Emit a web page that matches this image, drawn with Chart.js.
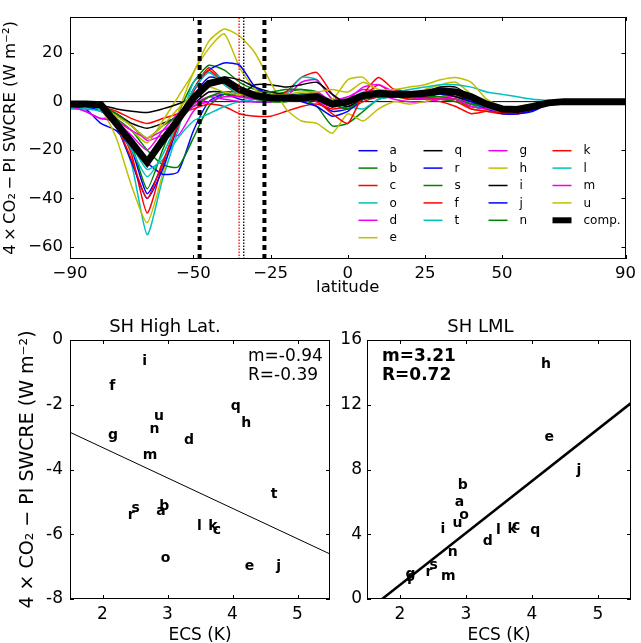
<!DOCTYPE html>
<html>
<head>
<meta charset="utf-8">
<script src="https://cdn.jsdelivr.net/npm/chart.js@4.4.1/dist/chart.umd.min.js"></script>
<style>
  html, body { margin: 0; padding: 0; background: #fff; }
  #wrap { position: relative; width: 641px; height: 643px; overflow: hidden; }
  #wrap canvas { position: absolute; }
</style>
</head>
<body>
<div id="wrap">
  <canvas id="profile" width="641" height="300" style="left:0;top:0"></canvas>
  <canvas id="highLat" width="332" height="346" style="left:0;top:300px"></canvas>
  <canvas id="lml" width="311" height="346" style="left:330px;top:300px"></canvas>
</div>
<script>
// latitude grid of the zonal-mean profiles
var lat = [-90,-85,-80,-75,-70,-65,-60,-55,-50,-45,-40,-35,-30,-25,-20,-15,-10,-5,0,5,10,15,20,25,30,35,40,45,50,55,60,65,70,75,80,85,90];

// 4xCO2 - PI SWCRE (W m-2) per model, on the grid above
var cre_a = [-2,-3,-9,-12,-20,-38,-26,-10,2,10,9,5,2,1,2,3,2,-2,0,3,4,5,4,4,5,4,1,-2,-4,-4.5,-3,-1,0,0,0,0,0];
var cre_b = [-1,-1,-2,-7,-18,-36,-20,-5,8,15,13,8,5,3,4,5,3,-2,-1,3,4,4,3,3,3,2,0,-2,-3,-3,-2,-0.5,0,0,0,0,0];
var cre_c = [-1,-1,-2,-8,-22,-46,-26,-8,5,14,8,3,1,1,4,10,12,3,-3,0,2,3,2,1,1,0,-3,-4,-5,-5,-3,-1,0,0,0,0,0];
var cre_o = [-3,-3,-3,-10,-26,-55,-32,-12,8,12,9,4,1,1,3,10,9,1,-1,3,4,4,3,3,3,2,0,-2,-3,-3.5,-2,-0.5,0,0,0,0,0];
var cre_d = [-2,-4,-7,-6,-10,-16,-14,-14,-4,2,3,3,2,2,2,8,9,1,2,5,4,3,2,1,2,2,-1,-3,-3,-3,-2,-0.5,0,0,0,0,0];
var cre_e = [-1,-1,-3,-15,-35,-50,-30,-5,12,22,28,14,5,2,1,2,3,1,9,10,3,2,3,5,7,8,3,-2,-3,-3,-2,-0.5,0,0,0,0,0];
var cre_q = [-1,-1,-2,-5,-9,-11,-9,-6,-1,4,4,3,7,7,6,7,8,3,-1,2,3,3,3,4,6,6,2,-1,-3,-3,-2,-0.5,0,0,0,0,0];
var cre_r = [-2,-2,-4,-8,-15,-25,-30,-29,-12,0,3,1,0,0,1,2,0,-4,-3,1,2,3,2,2,2,1,-1,-3,-4.5,-5,-3.5,-1,0,0,0,0,0];
var cre_s = [-1,-1.5,-3,-7,-12,-20,-26,-27,-15,-2,3,2,1,0,0,1,-2,-10,-9,-4,1,2,1,1,1,0,-2,-3,-3.5,-3,-2,-0.5,0,0,0,0,0];
var cre_f = [-1,-1,-2,-4,-7,-9,-7,-5,-3,-1,-2,-5,-6,-6,-4,-2,-1,-3,-2,2,7,3,1,1,0,-2,-5,-4,-4,-4,-2,-0.5,0,0,0,0,0];
var cre_t = [-3,-3,-4,-8,-18,-28,-24,-15,-8,-5,-2,0,1,1,2,2,1,-1,-2,-3,1,2,2,2,2,1,-1,-3,-4,-4,-2.5,-1,0,0,0,0,0];
var cre_g = [-1,-1,-2,-8,-14,-20,-12,-5,-1,2,1,0,0,0,1,2,0,-2,1,2,3,1,0,0,1,1,-1,-2,-3,-3,-2,-0.5,0,0,0,0,0];
var cre_h = [-1,-1,-3,-8,-12,-17,-8,2,12,25,30,27,20,8,-3,-8,-9,-13,-5,-8,-3,0,-1,0,2,1,-3,-4,-4,-4,-2,-0.5,0,0,0,0,0];
var cre_i = [-1,-1,-1.5,-3,-4,-4.5,-3,-1,2,7,10,9,6,4,3,3,3,0,-2,1,2,2,2,2,3,2,0,-2,-3,-3,-2,-0.5,0,0,0,0,0];
var cre_j = [-1,-1,-2,-10,-25,-40,-28,-10,5,13,16,15,6,3,2,0,-2,-6,-4,1,3,4,3,3,3,3,0,-3,-5,-5,-4,-1,0,0,0,0,0];
var cre_n = [-1,-1,-2,-5,-10,-15,-10,-6,-2,2,4,4,4,4,5,5,4,-1,-3,1,2,2,2,2,2,1,-1,-2,-3,-2.5,-1.5,-0.5,0,0,0,0,0];
var cre_k = [-1,-1,-2,-10,-24,-40,-25,-10,4,13,7,3,2,2,2,2,0,-5,-9,3,10,5,3,2,1,1,-3,-4,-4.5,-4.5,-3,-1,0,0,0,0,0];
var cre_l = [-2,-2,-3,-10,-20,-31,-22,-8,5,12,7,3,2,1,2,3,2,0,1,4,4,4,5,6,7,7,6,4,3,2,1,0.5,0,0,0,0,0];
var cre_m = [-2,-4,-7,-8,-12,-15,-12,-8,-2,0,2,2,1,1,1,1,4,0,1,6,7,4,2,1,1,1,-2,-3,-3.5,-3,-2,-0.5,0,0,0,0,0];
var cre_u = [-1,-1,-2,-6,-10,-15,-10,-3,3,6,4,3,4,3,3,4,4,5,4,8,5,5,6,7,9,10,8,1,-2,-2,-1,-0.5,0,0,0,0,0];
var cre_comp = [-1,-1,-1.3,-9,-17,-25,-16,-7.5,1.5,7.5,9,5,2.5,1.5,1.5,1.5,2,-1,0,2.5,3.5,3,3,3.5,4.5,4,2,-1,-3,-3.2,-2,-0.5,0,0,0,0,0];

var models = ['a','b','c','o','d','e','q','r','s','f','t','g','h','i','j','n','k','l','m','u'];
var profiles = [cre_a,cre_b,cre_c,cre_o,cre_d,cre_e,cre_q,cre_r,cre_s,cre_f,cre_t,cre_g,cre_h,cre_i,cre_j,cre_n,cre_k,cre_l,cre_m,cre_u];
var cycle = ['#0000ff','#008000','#ff0000','#00bfbf','#ee00ee','#bfbf00','#000000'];

// region edges (thick dashed) and jet latitudes (dotted)
var regionEdges = [-48, -27];
var jetLats = [-35.2, -33.7];
var jetColors = ['#ff0000', '#000000'];

var latTicks = [-90, -50, -25, 0, 25, 50, 90];
var creTicks = [-60, -40, -20, 0, 20];
var creRange = [-65, 35];

// scatter panels, same model order
var ecs = [2.9,2.95,3.76,2.97,3.33,4.26,4.05,2.44,2.51,2.15,4.64,2.16,4.21,2.65,4.71,2.8,3.7,3.49,2.73,2.87];
var shHighLat = [-5.3,-5.14,-5.88,-6.74,-3.09,-7.0,-2.06,-5.43,-5.2,-1.42,-4.76,-2.96,-2.57,-0.67,-7.0,-2.76,-5.76,-5.76,-3.57,-2.37];
var shLML = [5.94,7.0,4.48,5.16,3.57,10.0,4.23,1.65,2.1,1.13,null,1.5,14.5,4.33,7.94,2.89,4.33,4.23,1.38,4.68];
var slopes = [-0.94, 3.21];
var intercepts = [-1.44, -5.55];
var corrs = [-0.39, 0.72];
var ecsRange = [1.5, 5.5];
var ecsTicks = [2, 3, 4, 5];

Chart.defaults.font.family = '"DejaVu Sans", sans-serif';
Chart.defaults.color = '#000';
Chart.defaults.animation = false;

var yTitle = '4\u2009\u00d7\u2009CO\u2082\u2009\u2212\u2009PI SWCRE (W m\u207b\u00b2)';
var yTitleWide = '4 \u00d7 CO\u2082 \u2212 PI SWCRE (W m\u207b\u00b2)';

function minusLabel(v) {
    return v < 0 ? '\u2212' + Math.abs(v) : String(v);
}
function fixTicks(list) {
    return function (s) { s.ticks = list.map(function (v) { return {value: v}; }); };
}

// box round the axes with inward ticks on all four sides
var frame = {
    id: 'frame',
    afterDatasetsDraw: function (chart) {
        var ctx = chart.ctx, a = chart.chartArea, sx = chart.scales.x, sy = chart.scales.y;
        ctx.save();
        ctx.strokeStyle = '#000';
        ctx.lineWidth = 1;
        ctx.beginPath();
        sx.ticks.forEach(function (t) {
            var px = Math.round(sx.getPixelForValue(t.value)) + 0.5;
            ctx.moveTo(px, a.bottom); ctx.lineTo(px, a.bottom - 4);
            ctx.moveTo(px, a.top); ctx.lineTo(px, a.top + 4);
        });
        sy.ticks.forEach(function (t) {
            var py = Math.round(sy.getPixelForValue(t.value)) + 0.5;
            ctx.moveTo(a.left, py); ctx.lineTo(a.left + 4, py);
            ctx.moveTo(a.right, py); ctx.lineTo(a.right - 4, py);
        });
        ctx.stroke();
        ctx.strokeRect(Math.round(a.left) + 0.5, Math.round(a.top) + 0.5,
            Math.round(a.width) - 1, Math.round(a.height) - 1);
        ctx.restore();
    }
};

// four-column legend filled column by column, as in the figure
var profileLegend = {
    id: 'profileLegend',
    afterDraw: function (chart) {
        var ctx = chart.ctx, a = chart.chartArea;
        var items = chart.data.datasets.filter(function (d) { return d.inLegend; });
        items.sort(function (p, q) { return p.legendIndex - q.legendIndex; });
        var colX = [a.right - 267, a.right - 202, a.right - 137, a.right - 73];
        var perCol = [6, 5, 5, 5];
        var k = 0;
        ctx.save();
        ctx.font = '12px "DejaVu Sans"';
        ctx.textBaseline = 'middle';
        ctx.fillStyle = '#000';
        for (var c = 0; c < perCol.length; c++) {
            for (var r = 0; r < perCol[c] && k < items.length; r++, k++) {
                var y = a.bottom - 108.3 + r * 17.4;
                ctx.strokeStyle = items[k].borderColor;
                ctx.lineWidth = items[k].label === 'comp.' ? 6 : 1.5;
                ctx.beginPath();
                ctx.moveTo(colX[c], y);
                ctx.lineTo(colX[c] + 19, y);
                ctx.stroke();
                ctx.fillText(items[k].label, colX[c] + 31, y + 0.5);
            }
        }
        ctx.restore();
    }
};

var profileSets = [];
models.forEach(function (name, i) {
    profileSets.push({
        label: name,
        inLegend: true,
        legendIndex: i,
        data: lat.map(function (x, j) { return {x: x, y: profiles[i][j]}; }),
        borderColor: cycle[i % 7],
        borderWidth: 1.5,
        pointRadius: 0,
        tension: 0.2,
        order: 50 - i
    });
});
profileSets.push({
    label: 'comp.',
    inLegend: true,
    legendIndex: 99,
    data: lat.map(function (x, j) { return {x: x, y: cre_comp[j]}; }),
    borderColor: '#000',
    borderWidth: 7,
    pointRadius: 0,
    borderJoinStyle: 'miter',
    order: 10
});
profileSets.push({
    label: '',
    data: [{x: lat[0], y: 0}, {x: lat[lat.length - 1], y: 0}],
    borderColor: '#000',
    borderWidth: 1,
    pointRadius: 0,
    order: 80
});
regionEdges.forEach(function (e) {
    profileSets.push({
        label: '',
        data: [{x: e, y: creRange[0]}, {x: e, y: creRange[1]}],
        borderColor: '#000',
        borderWidth: 4,
        borderDash: [5, 4],
        pointRadius: 0,
        order: 0
    });
});
jetLats.forEach(function (e, i) {
    profileSets.push({
        label: '',
        data: [{x: e, y: creRange[0]}, {x: e, y: creRange[1]}],
        borderColor: jetColors[i],
        borderWidth: 1.3,
        borderDash: [1.5, 1.5],
        pointRadius: 0,
        order: 1
    });
});

new Chart(document.getElementById('profile'), {
    type: 'line',
    data: {datasets: profileSets},
    options: {
        responsive: false,
        layout: {padding: {top: 1, right: 11, left: 0, bottom: 0}},
        plugins: {legend: {display: false}, tooltip: {enabled: false}},
        scales: {
            x: {
                type: 'linear', min: -90, max: 90,
                afterBuildTicks: fixTicks(latTicks),
                afterFit: function (s) { s.height = 41; },
                grid: {display: false, drawTicks: false},
                border: {display: false},
                ticks: {padding: 5, autoSkip: false, maxRotation: 0, font: {size: 16.5}, callback: minusLabel},
                title: {display: true, text: 'latitude', font: {size: 16.5}, padding: {top: 0, bottom: 2}}
            },
            y: {
                min: creRange[0], max: creRange[1],
                afterBuildTicks: fixTicks(creTicks),
                afterFit: function (s) { s.width = 70; },
                grid: {display: false, drawTicks: false},
                border: {display: false},
                ticks: {padding: 7, font: {size: 16.5}, callback: minusLabel},
                title: {display: true, text: yTitle, font: {size: 16.5}, padding: {top: 1, bottom: 0}}
            }
        }
    },
    plugins: [frame, profileLegend]
});

// model letters at each scatter point
var letterMarks = {
    id: 'letterMarks',
    afterDatasetsDraw: function (chart) {
        var ctx = chart.ctx, meta = chart.getDatasetMeta(0);
        ctx.save();
        ctx.font = 'bold 14px "DejaVu Sans"';
        ctx.fillStyle = '#000';
        ctx.textAlign = 'center';
        ctx.textBaseline = 'middle';
        meta.data.forEach(function (pt, i) {
            if (pt.skip) return;
            ctx.fillText(models[i], pt.x, pt.y);
        });
        ctx.restore();
    }
};

var fitNote = {
    id: 'fitNote',
    afterDraw: function (chart, args, opts) {
        var ctx = chart.ctx, a = chart.chartArea;
        ctx.save();
        ctx.font = (opts.bold ? 'bold ' : '') + '17px "DejaVu Sans"';
        ctx.fillStyle = '#000';
        ctx.textAlign = 'left';
        ctx.textBaseline = 'middle';
        opts.lines.forEach(function (t, i) {
            ctx.fillText(t, a.left + opts.dx, a.top + 17 + i * 18.5);
        });
        ctx.restore();
    }
};

function scatterPanel(id, title, values, n, yMin, yMax, yTicks, yAxisWidth, yPad, showTitle, padRight, lineW, note) {
    var pts = ecs.map(function (x, i) { return {x: x, y: values[i]}; });
    var fit = ecsRange.map(function (x) { return {x: x, y: slopes[n] * x + intercepts[n]}; });
    return new Chart(document.getElementById(id), {
        type: 'scatter',
        data: {
            datasets: [
                {data: pts, pointRadius: 0, pointHoverRadius: 0},
                {data: fit, showLine: true, borderColor: '#000', borderWidth: lineW, pointRadius: 0, clip: 0}
            ]
        },
        options: {
            responsive: false,
            layout: {padding: {top: 0, right: padRight, left: 0, bottom: 0}},
            plugins: {
                legend: {display: false},
                tooltip: {enabled: false},
                title: {display: true, text: title, color: '#000', font: {size: 18, weight: 'normal'}, padding: {top: 17, bottom: 1.4}},
                fitNote: note
            },
            scales: {
                x: {
                    type: 'linear', min: ecsRange[0], max: ecsRange[1],
                    afterBuildTicks: fixTicks(ecsTicks),
                    afterFit: function (s) { s.height = 47; },
                    grid: {display: false, drawTicks: false},
                    border: {display: false},
                    ticks: {padding: 5, autoSkip: false, maxRotation: 0, font: {size: 17}},
                    title: {display: true, text: 'ECS (K)', font: {size: 17}, padding: {top: 0, bottom: 0}}
                },
                y: {
                    min: yMin, max: yMax,
                    afterBuildTicks: fixTicks(yTicks),
                    afterFit: function (s) { s.width = yAxisWidth; },
                    grid: {display: false, drawTicks: false},
                    border: {display: false},
                    ticks: {padding: yPad, font: {size: 17}},
                    title: {display: showTitle, text: yTitleWide, font: {size: 19}, padding: {top: 17, bottom: 0}}
                }
            }
        },
        plugins: [frame, letterMarks, fitNote]
    });
}

scatterPanel('highLat', 'SH High Lat.', shHighLat, 0, -8, 0, [-8, -6, -4, -2, 0], 70, 7, true, 2, 1,
    {lines: ['m=' + slopes[0].toFixed(2), 'R=' + corrs[0].toFixed(2)], bold: false, dx: 178});
scatterPanel('lml', 'SH LML', shLML, 1, 0, 16, [0, 4, 8, 12, 16], 37, 5, false, 10, 2.5,
    {lines: ['m=' + slopes[1].toFixed(2), 'R=' + corrs[1].toFixed(2)], bold: true, dx: 15});
</script>
</body>
</html>
